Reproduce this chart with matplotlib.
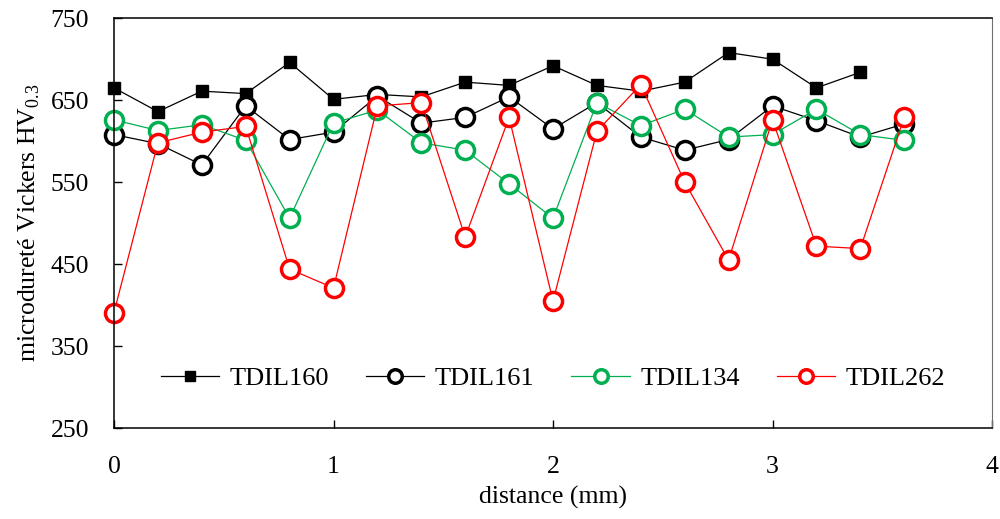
import matplotlib
matplotlib.use("Agg")
import matplotlib.pyplot as plt

plt.rcParams['font.family'] = ['Liberation Serif', 'DejaVu Serif']
plt.rcParams['mathtext.fontset'] = 'custom'
plt.rcParams['mathtext.rm'] = 'Liberation Serif'

# distance (mm)
x_160 = [0, 0.2, 0.4, 0.6, 0.8, 1.0, 1.2, 1.4, 1.6, 1.8, 2.0, 2.2, 2.4, 2.6, 2.8, 3.0, 3.2, 3.4]
x_all = [0, 0.2, 0.4, 0.6, 0.8, 1.0, 1.2, 1.4, 1.6, 1.8, 2.0, 2.2, 2.4, 2.6, 2.8, 3.0, 3.2, 3.4, 3.6]

tdil160 = [665, 636, 661, 658, 696, 651, 657, 654, 672, 668, 692, 668, 661, 672, 708, 700, 665, 684]
tdil161 = [608, 597, 571, 643, 602, 611, 655, 622, 629, 654, 615, 647, 605, 589, 602, 643, 625, 605, 621]
tdil134 = [626, 613, 620, 601, 506, 622, 638, 598, 589, 548, 506, 647, 619, 639, 605, 608, 639, 608, 601]
tdil262 = [391, 598, 611, 618, 444, 421, 643, 647, 483, 629, 405, 612, 669, 550, 455, 626, 472, 469, 629]

green = '#00B050'
red = '#FF0000'

fig = plt.figure(figsize=(10, 5.19), dpi=100)
ax = fig.add_axes([0.114, 0.175, 0.878, 0.79])

ax.plot(x_160, tdil160, marker='s', color='black', markersize=9, linewidth=0.9,
        label='TDIL160', clip_on=False)
ax.plot(x_all, tdil161, marker='o', color='black', markerfacecolor='white',
        markersize=13, markeredgewidth=2.5, linewidth=0.9, label='TDIL161', clip_on=False)
ax.plot(x_all, tdil134, marker='o', color=green, markerfacecolor='white',
        markersize=13, markeredgewidth=2.5, linewidth=0.9, label='TDIL134', clip_on=False)
ax.plot(x_all, tdil262, marker='o', color=red, markerfacecolor='white',
        markersize=13, markeredgewidth=2.5, linewidth=0.9, label='TDIL262', clip_on=False)

ax.set_xlim(0, 4)
ax.set_ylim(250, 750)
ax.set_xticks([0, 1, 2, 3, 4])
ax.set_yticks([250, 350, 450, 550, 650, 750])
ax.tick_params(axis='both', direction='in', labelsize=18.5, length=6, width=1)
ax.tick_params(axis='x', pad=20)
ax.tick_params(axis='y', pad=18)
ax.spines['right'].set_color('#707070')
for s in ['left', 'bottom', 'top']:
    ax.spines[s].set_linewidth(1.1)

ax.set_xlabel('distance (mm)', fontsize=18.5, labelpad=6)
ax.set_ylabel('microdureté Vickers HV$_{0.3}$', fontsize=18.5, labelpad=6)

ax.legend(loc='lower center', bbox_to_anchor=(0.5, 0.035), ncol=4, frameon=False,
          fontsize=19, handlelength=2.2, handletextpad=0.4, columnspacing=1.4,
          markerscale=0.75)

fig.savefig('out.png', dpi=100)
